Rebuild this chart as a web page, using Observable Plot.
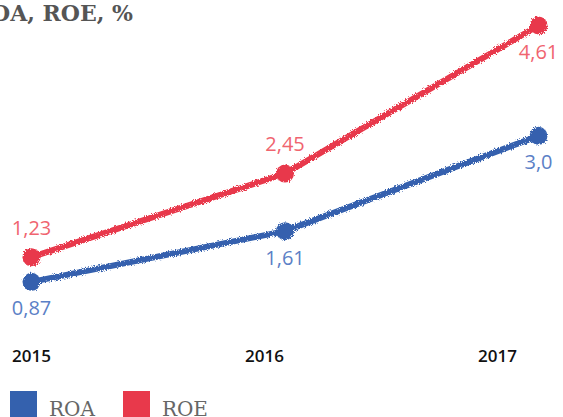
<!DOCTYPE html>
<html>
<head>
<meta charset="utf-8">
<script src="https://cdn.jsdelivr.net/npm/d3@7"></script>
<script src="https://cdn.jsdelivr.net/npm/@observablehq/plot@0.6"></script>
<style>
  html, body { margin: 0; padding: 0; background: #fff; overflow: hidden; }
  #wrap { position: relative; width: 563px; height: 417px; }
  #chart svg, #axis svg { display: block; }
  #title { position: absolute; top: 0px; right: calc(563px - 133px); white-space: nowrap;
    font-family: "DejaVu Serif", serif; font-weight: bold; font-size: 22px; color: #555; line-height: 26px; }
  #legend { display: flex; align-items: center; margin-left: 10px; margin-top: 6px;
    font-family: "DejaVu Serif", serif; font-size: 20px; color: #666; }
  .sw { width: 27px; height: 27px; margin-right: 12px; }
  .lab { margin-right: 28px; font-weight: 300; position: relative; top: 4px; }
</style>
</head>
<body>
<div id="wrap">
  <div id="chart"></div>
  <div id="axis"></div>
  <div id="legend"></div>
  <div id="title">ROA, ROE, %</div>
</div>
<script>
const years = [2015, 2016, 2017];
const roa = [0.87, 1.61, 3.0];
const roe = [1.23, 2.45, 4.61];
const roaLabels = ["0,87", "1,61", "3,0"];
const roeLabels = ["1,23", "2,45", "4,61"];
const seriesNames = ["ROA", "ROE"];
const lineColors = ["#3461ae", "#e8394b"];
const labelColors = ["#5b80c6", "#f0646f"];

const rows = [];
years.forEach((y, i) => {
  rows.push({year: y, value: roa[i], label: roaLabels[i], series: "ROA"});
  rows.push({year: y, value: roe[i], label: roeLabels[i], series: "ROE"});
});

const colorScale = {domain: seriesNames, range: lineColors};
const lblColor = d => labelColors[seriesNames.indexOf(d.series)];
const isAbove = d => d.series === "ROE" && d.year < 2017;

const chart = Plot.plot({
  width: 563, height: 345,
  marginLeft: 31, marginRight: 25, marginTop: 25, marginBottom: 4,
  x: {domain: [2015, 2017], axis: null},
  y: {domain: [0, 4.61], axis: null},
  color: colorScale,
  style: {background: "transparent", overflow: "visible"},
  marks: [
    Plot.lineY(rows, {x: "year", y: "value", z: "series", stroke: "series", strokeWidth: 6, strokeLinecap: "round"}),
    Plot.dot(rows, {x: "year", y: "value", fill: "series", r: 9}),
    Plot.text(rows.filter(d => !isAbove(d)), {x: "year", y: "value", text: "label", fill: lblColor, dy: 27,
      fontSize: 20, fontFamily: "Open Sans, sans-serif"}),
    Plot.text(rows.filter(isAbove), {x: "year", y: "value", text: "label", fill: lblColor, dy: -29,
      fontSize: 20, fontFamily: "Open Sans, sans-serif"})
  ]
});

// roughen the strokes like a brush
const svg = d3.select(chart);
const defs = svg.insert("defs", ":first-child");
const f = defs.append("filter").attr("id", "rough").attr("x", "-20%").attr("y", "-40%").attr("width", "140%").attr("height", "180%");
f.append("feTurbulence").attr("type", "fractalNoise").attr("baseFrequency", "0.8").attr("numOctaves", 2).attr("result", "n");
f.append("feDisplacementMap").attr("in", "SourceGraphic").attr("in2", "n").attr("scale", 4);
svg.selectAll('g[aria-label="line"], g[aria-label="dot"]').attr("filter", "url(#rough)");

document.getElementById("chart").append(chart);

const axis = Plot.plot({
  width: 563, height: 40,
  marginLeft: 31, marginRight: 66, marginTop: 0, marginBottom: 40,
  x: {domain: [2015, 2017]},
  style: {background: "transparent"},
  marks: [
    Plot.axisX(years, {tickSize: 0, tickPadding: 4, tickFormat: d => String(d), fontSize: 17, fontWeight: 600,
      fill: "#111", fontFamily: "Open Sans, sans-serif"})
  ]
});
document.getElementById("axis").append(axis);

const legend = document.getElementById("legend");
seriesNames.forEach((s, i) => {
  const sw = document.createElement("div");
  sw.className = "sw"; sw.style.background = lineColors[i];
  const lab = document.createElement("span");
  lab.className = "lab"; lab.textContent = s;
  legend.append(sw, lab);
});
</script>
</body>
</html>
